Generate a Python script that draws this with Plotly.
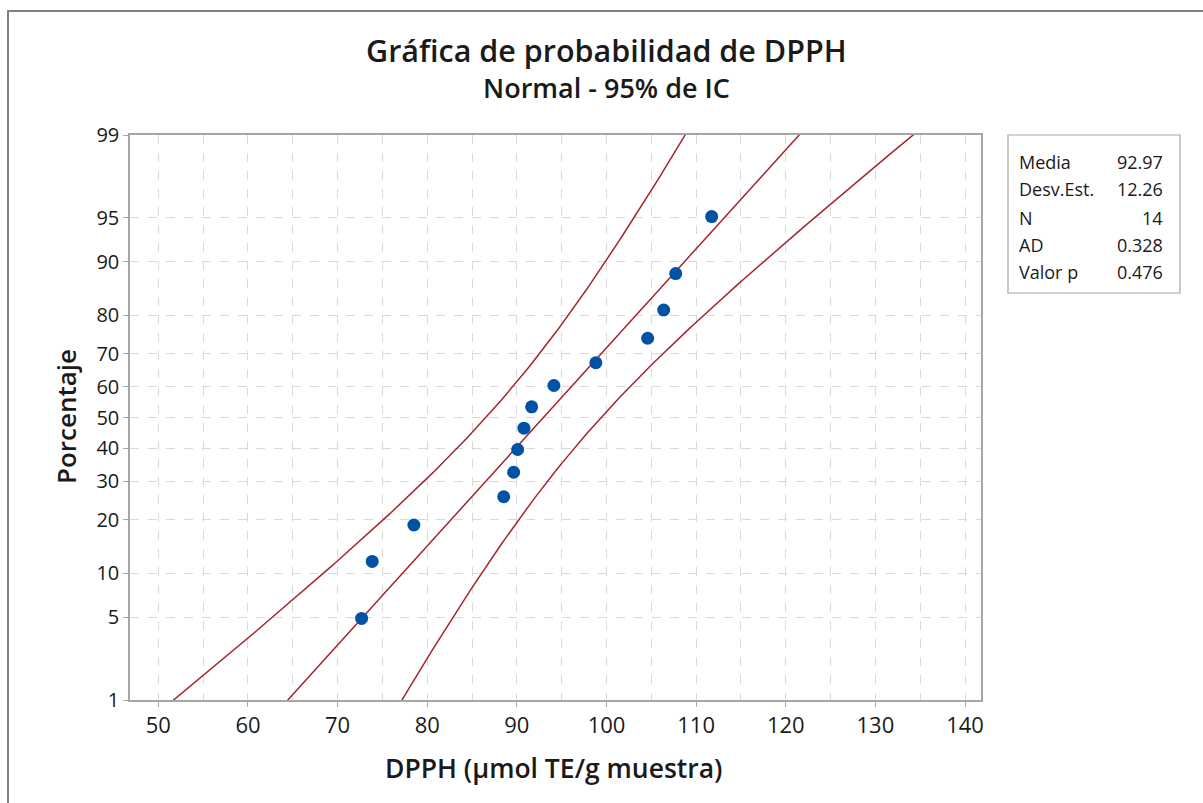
import plotly.graph_objects as go
from statistics import NormalDist

# ---- data ----
dpph_values = [72.68, 73.86, 78.51, 88.53, 89.64, 90.09, 90.79, 91.65,
               94.13, 98.81, 104.59, 106.38, 107.72, 111.73]
percent_values = [4.9, 11.8, 18.8, 25.7, 32.6, 39.6, 46.5, 53.5,
                  60.4, 67.4, 74.3, 81.2, 88.2, 95.1]
stat_labels = ["Media", "Desv.Est.", "N", "AD", "Valor p"]
stat_values = ["92.97", "12.26", "14", "0.328", "0.476"]
mean_val = 92.97
sd_val = 12.26
n_val = 14
y_tick_labels = [1, 5, 10, 20, 30, 40, 50, 60, 70, 80, 90, 95, 99]

nd = NormalDist()
zq = lambda p: nd.inv_cdf(p / 100.0)

y_pts = [zq(p) for p in percent_values]
ytickvals = [zq(p) for p in y_tick_labels]

# fitted line and 95% confidence bands (from Media / Desv.Est. / N)
zc = 1.959964
zgrid = [-2.6 + i * 0.02 for i in range(261)]
fit_x = [mean_val + sd_val * z for z in zgrid]
se = [sd_val * (1.0 / n_val + z * z / (2.0 * (n_val - 1))) ** 0.5 for z in zgrid]
lo_x = [f - zc * s for f, s in zip(fit_x, se)]
hi_x = [f + zc * s for f, s in zip(fit_x, se)]

red = "#a4262c"
fig = go.Figure()
for xs in (lo_x, fit_x, hi_x):
    fig.add_trace(go.Scatter(x=xs, y=zgrid, mode="lines",
                             line=dict(color=red, width=1.5),
                             hoverinfo="skip", showlegend=False))
fig.add_trace(go.Scatter(x=dpph_values, y=y_pts, mode="markers",
                         marker=dict(color="#0052a5", size=13),
                         showlegend=False))

# plot area geometry (pixels)
L, R, T, B = 130, 981, 135, 700
W, H = R - L, B - T
px = lambda x: (x - L) / W
py = lambda y: (B - y) / H

font = "Open Sans, Noto Sans, sans-serif"
grid_c = "#d9d9d9"
axis_c = "#a6a6a6"
txt_c = "#1a1a1a"

fig.update_xaxes(range=[46.84, 141.78], tick0=50, dtick=10,
                 ticks="outside", ticklen=5, tickcolor=axis_c,
                 showline=True, linecolor=axis_c, linewidth=1.5, mirror=True,
                 showgrid=True, gridcolor=grid_c, griddash="dash", gridwidth=1,
                 minor=dict(dtick=5, tick0=50, showgrid=True, gridcolor=grid_c,
                            griddash="dash", gridwidth=1),
                 zeroline=False,
                 tickfont=dict(size=22, color=txt_c, family=font))
fig.update_yaxes(range=[zq(1), zq(99)], tickmode="array", tickvals=ytickvals,
                 ticktext=[str(v) for v in y_tick_labels],
                 ticks="outside", ticklen=5, tickcolor=axis_c,
                 showline=True, linecolor=axis_c, linewidth=1.5, mirror=True,
                 showgrid=True, gridcolor=grid_c, griddash="dash", gridwidth=1,
                 zeroline=False,
                 tickfont=dict(size=20, color=txt_c, family=font))

ann = []
ann.append(dict(text="Gráfica de probabilidad de DPPH", x=px(606), y=py(50),
                font=dict(size=30.5, color=txt_c, family=font, weight=600)))
ann.append(dict(text="Normal - 95% de IC", x=px(606), y=py(88),
                font=dict(size=27, color=txt_c, family=font, weight=600)))
ann.append(dict(text="DPPH (µmol TE/g muestra)", x=px(554), y=py(768),
                font=dict(size=26.5, color=txt_c, family=font, weight=600)))
ann.append(dict(text="Porcentaje", x=px(66), y=py(417), textangle=-90,
                font=dict(size=26, color=txt_c, family=font, weight=600)))
row_y = [161.7, 189.5, 217.5, 245.5, 271.7]
for lab, val, yy in zip(stat_labels, stat_values, row_y):
    ann.append(dict(text=lab, x=px(1017), y=py(yy), xanchor="left",
                    font=dict(size=18, color=txt_c, family=font)))
    ann.append(dict(text=val, x=px(1165), y=py(yy), xanchor="right",
                    font=dict(size=18, color=txt_c, family=font)))
for a in ann:
    a.setdefault("xanchor", "center")
    a.update(xref="paper", yref="paper", yanchor="middle", showarrow=False)

shapes = [
    dict(type="rect", xref="paper", yref="paper",
         x0=px(1008), x1=px(1180), y0=py(293), y1=py(135),
         line=dict(color="#a6a6a6", width=1.2), fillcolor="white", layer="below"),
    dict(type="path", xref="paper", yref="paper",
         path=f"M {px(8)},{py(810)} L {px(8)},{py(11)} L {px(1210)},{py(11)}",
         line=dict(color="#808080", width=2)),
]

fig.update_layout(width=1203, height=803,
                  margin=dict(l=L, r=1203 - R, t=T, b=803 - B),
                  paper_bgcolor="white", plot_bgcolor="white",
                  annotations=ann, shapes=shapes, showlegend=False)

fig.write_html("out.html")
